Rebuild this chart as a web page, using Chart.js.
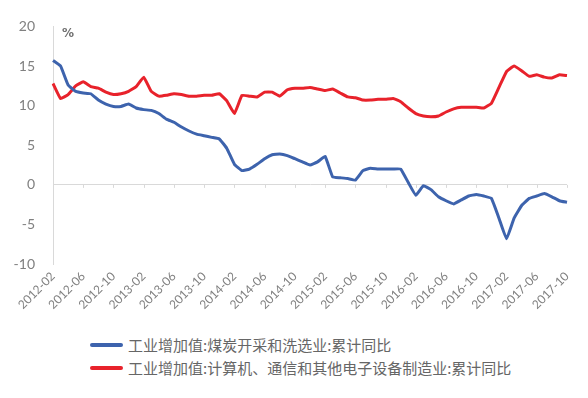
<!DOCTYPE html>
<html>
<head>
<meta charset="utf-8">
<script src="https://cdn.jsdelivr.net/npm/chart.js@4.4.1/dist/chart.umd.min.js"></script>
<style>
  html, body { margin: 0; padding: 0; background: #fff; }
  #wrap { position: relative; width: 588px; height: 398px; }
  #box { position: absolute; left: 0; top: 0; width: 588px; height: 322px; }
  #legend { position: absolute; left: 90px; top: 333px; font-family: "Noto Sans CJK SC", sans-serif; font-size: 15px; color: #666; }
  .item { display: flex; align-items: center; height: 23px; white-space: nowrap; }
  .swatch { width: 33px; height: 4px; border-radius: 2px; margin-right: 5px; }
</style>
</head>
<body>
<div id="wrap">
  <div id="box"><canvas id="chart"></canvas></div>
  <div id="legend"></div>
</div>
<script>
const chartElm = document.getElementById('chart');

// months, 2012-02 .. 2017-10
var months = [
    '2012-02','2012-03','2012-04','2012-05','2012-06','2012-07','2012-08','2012-09','2012-10','2012-11','2012-12','2013-01',
    '2013-02','2013-03','2013-04','2013-05','2013-06','2013-07','2013-08','2013-09','2013-10','2013-11','2013-12','2014-01',
    '2014-02','2014-03','2014-04','2014-05','2014-06','2014-07','2014-08','2014-09','2014-10','2014-11','2014-12','2015-01',
    '2015-02','2015-03','2015-04','2015-05','2015-06','2015-07','2015-08','2015-09','2015-10','2015-11','2015-12','2016-01',
    '2016-02','2016-03','2016-04','2016-05','2016-06','2016-07','2016-08','2016-09','2016-10','2016-11','2016-12','2017-01',
    '2017-02','2017-03','2017-04','2017-05','2017-06','2017-07','2017-08','2017-09','2017-10'
]

// 工业增加值:煤炭开采和洗选业:累计同比
var coal = [
    15.7, 15.0, 12.6, 11.8, 11.6, 11.5, 10.7, 10.2, 9.9, 9.9, 10.2, 9.7,
    9.5, 9.4, 9.0, 8.3, 7.9, 7.3, 6.8, 6.4, 6.2, 6.0, 5.8, 4.6,
    2.6, 1.8, 2.0, 2.6, 3.3, 3.8, 3.9, 3.7, 3.3, 2.9, 2.5, 2.9,
    3.6, 1.0, 0.9, 0.8, 0.6, 1.8, 2.1, 2.0, 2.0, 2.0, 2.0, 0.3,
    -1.3, -0.1, -0.6, -1.5, -2.0, -2.4, -1.9, -1.4, -1.2, -1.4, -1.7, -4.2,
    -6.8, -4.2, -2.6, -1.7, -1.4, -1.1, -1.5, -2.0, -2.2
]

// 工业增加值:计算机、通信和其他电子设备制造业:累计同比
var electronics = [
    12.8, 10.9, 11.4, 12.5, 13.0, 12.4, 12.2, 11.7, 11.4, 11.5, 11.8, 12.4,
    13.6, 11.8, 11.2, 11.3, 11.5, 11.4, 11.2, 11.2, 11.3, 11.3, 11.5, 10.6,
    9.0, 11.3, 11.2, 11.1, 11.7, 11.7, 11.2, 12.0, 12.2, 12.2, 12.3, 12.1,
    11.9, 12.1, 11.6, 11.1, 11.0, 10.7, 10.7, 10.8, 10.8, 10.9, 10.5, 9.7,
    9.0, 8.7, 8.6, 8.7, 9.2, 9.6, 9.8, 9.8, 9.8, 9.7, 10.3, 12.3,
    14.3, 15.0, 14.4, 13.7, 13.9, 13.6, 13.5, 13.9, 13.8
]

var seriesNames = [
    '工业增加值:煤炭开采和洗选业:累计同比',
    '工业增加值:计算机、通信和其他电子设备制造业:累计同比'
]

var yTicks = [-10, -5, 0, 5, 10, 15, 20]

var axisGray = '#d9d9d9'
var textGray = '#808080'

// small tick marks on the zero line and the "%" unit
var extras = {
    id: 'extras',
    beforeDatasetsDraw(chart) {
        var ctx = chart.ctx
        var x = chart.scales.x
        var y0 = chart.scales.y.getPixelForValue(0)
        ctx.save()
        ctx.strokeStyle = axisGray
        ctx.lineWidth = 1
        x.ticks.forEach((t, i) => {
            var px = Math.round(x.getPixelForTick(i)) + 0.5
            ctx.beginPath()
            ctx.moveTo(px, y0)
            ctx.lineTo(px, y0 + 3)
            ctx.stroke()
        })
        ctx.fillStyle = '#707070'
        ctx.font = 'bold 12px "DejaVu Sans", sans-serif'
        ctx.textBaseline = 'top'
        ctx.fillText('%', chart.chartArea.left + 9, chart.chartArea.top + 1)
        ctx.restore()
    }
}

var chart = new Chart(chartElm, {
    type: 'line',
    data: {
        labels: months,
        datasets: [{
            label: seriesNames[0],
            data: coal,
            borderColor: '#3d63ad',
            borderWidth: 3,
            pointRadius: 0,
            tension: 0.1
        }, {
            label: seriesNames[1],
            data: electronics,
            borderColor: '#e8222b',
            borderWidth: 3,
            pointRadius: 0,
            tension: 0.1
        }]
    },
    options: {
        responsive: true,
        maintainAspectRatio: false,
        animation: false,
        layout: { padding: { top: 7, right: 21, left: 1, bottom: 5 } },
        plugins: {
            legend: { display: false },
            tooltip: { enabled: false }
        },
        scales: {
            x: {
                grid: { display: false, drawTicks: false },
                border: { display: false },
                ticks: {
                    autoSkip: false,
                    minRotation: 45,
                    maxRotation: 45,
                    padding: 5,
                    color: textGray,
                    font: { family: 'Lato, "Open Sans", sans-serif', size: 12 },
                    callback: function (v, i) {
                        return i % 4 == 0 ? months[i] : null
                    }
                }
            },
            y: {
                min: yTicks[0],
                max: yTicks[yTicks.length - 1],
                afterBuildTicks: axis => { axis.ticks = yTicks.map(v => ({ value: v })) },
                afterFit: axis => { axis.width = 52 },
                grid: {
                    drawTicks: false,
                    color: c => c.tick && c.tick.value == 0 ? axisGray : 'rgba(0,0,0,0)'
                },
                border: { display: true, color: axisGray },
                ticks: {
                    padding: 18,
                    color: textGray,
                    font: { family: 'Lato, "Open Sans", sans-serif', size: 14 }
                }
            }
        }
    },
    plugins: [extras]
});

// legend built from the datasets
var legendElm = document.getElementById('legend')
chart.data.datasets.forEach(ds => {
    var row = document.createElement('div')
    row.className = 'item'
    var sw = document.createElement('span')
    sw.className = 'swatch'
    sw.style.background = ds.borderColor
    var txt = document.createElement('span')
    txt.innerText = ds.label
    row.appendChild(sw)
    row.appendChild(txt)
    legendElm.appendChild(row)
})
</script>
</body>
</html>
